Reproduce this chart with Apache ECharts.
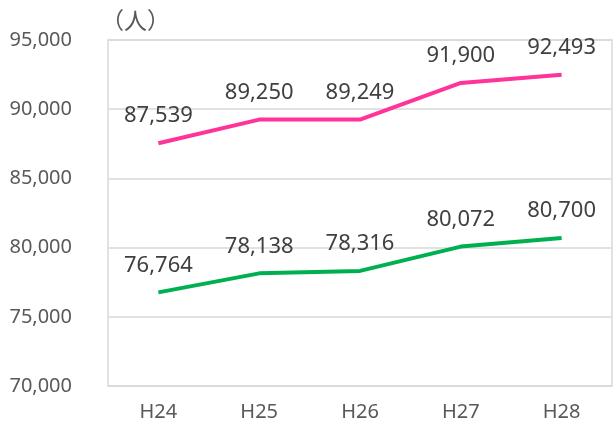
<!DOCTYPE html>
<html><head><meta charset="utf-8">
<script src="https://cdn.jsdelivr.net/npm/echarts@6/dist/echarts.min.js"></script>
<style>html,body{margin:0;padding:0;background:#fff}#c{width:614px;height:437px}</style>
</head><body><div id="c"></div>
<script>
const categories = ['H24','H25','H26','H27','H28'];
const pinkValues = [87539, 89250, 89249, 91900, 92493];
const greenValues = [76764, 78138, 78316, 80072, 80700];
const yTicks = [70000, 75000, 80000, 85000, 90000, 95000];
const unitLabel = '（人）';

const font = '"Noto Sans", "Noto Sans CJK JP", sans-serif';
const fmt = v => v.toLocaleString('en-US');
const chart = echarts.init(document.getElementById('c'));
const lbl = {show: true, position: 'top', distance: 16, color: '#404040', fontSize: 22, fontFamily: font, formatter: p => fmt(p.value)};
chart.setOption({
  animation: false,
  grid: {left: 108, right: 2, top: 40, bottom: 51, show: true, borderColor: '#d9d9d9', borderWidth: 1.5},
  graphic: [{type: 'text', left: 101, top: 9, style: {text: unitLabel, font: '23px "Noto Sans CJK JP", sans-serif', fill: '#595959'}}],
  xAxis: {
    type: 'category', data: categories, boundaryGap: true,
    axisLine: {show: false}, axisTick: {show: false},
    axisLabel: {color: '#595959', fontSize: 20, fontFamily: font, margin: 16}
  },
  yAxis: {
    type: 'value', min: yTicks[0], max: yTicks[yTicks.length-1], interval: 5000,
    axisLine: {show: false}, axisTick: {show: false},
    splitLine: {lineStyle: {color: '#d9d9d9', width: 1.5}},
    axisLabel: {color: '#595959', fontSize: 20, fontFamily: font, margin: 36, formatter: fmt}
  },
  series: [
    {type: 'line', data: pinkValues, symbol: 'circle', symbolSize: 0.1, showSymbol: true, lineStyle: {color: '#FF3399', width: 4}, itemStyle: {color: '#FF3399'}, label: lbl},
    {type: 'line', data: greenValues, symbol: 'circle', symbolSize: 0.1, showSymbol: true, lineStyle: {color: '#00B050', width: 4}, itemStyle: {color: '#00B050'}, label: lbl}
  ]
});
</script></body></html>
